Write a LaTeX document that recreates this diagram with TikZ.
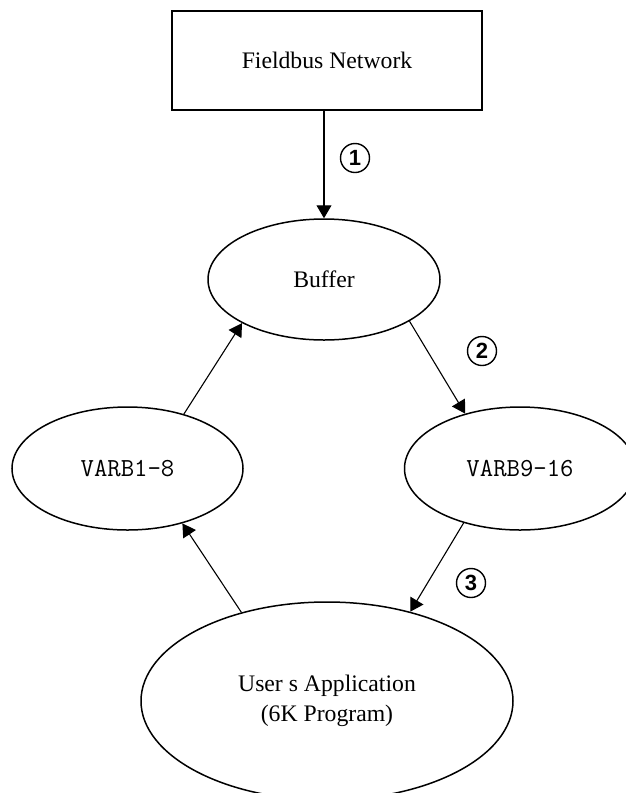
\documentclass[tikz,border=0pt]{standalone}
\usepackage{fontspec}
\setmainfont{Liberation Serif}
\newfontfamily\numfont{Liberation Sans}
\usetikzlibrary{arrows.meta,shapes.geometric}
\tikzset{
  boxshape/.style={draw, line width=1.6pt, rectangle, inner sep=0pt, minimum width=310pt, minimum height=99pt},
  ellshape/.style={draw, line width=1.5pt, ellipse, inner sep=0pt},
  flow/.style={line width=1.1pt, -{Triangle[length=13pt,width=15pt]}},
  numcirc/.style={draw, line width=1.4pt, circle, inner sep=0pt, minimum size=29pt, font=\numfont\bfseries\fontsize{22}{22}\selectfont},
  bigtext/.style={font=\fontsize{23.7}{30}\selectfont},
  monotext/.style={font=\ttfamily\fontsize{26}{28}\selectfont}
}
\begin{document}
\begin{tikzpicture}[x=1pt,y=-1pt]
\useasboundingbox (0,0) rectangle (626,793);
\clip (0,0) rectangle (626,793);
\node[boxshape, bigtext] (fb) at (327,60.5) {Fieldbus Network};
\node[ellshape, bigtext, minimum width=232pt, minimum height=121pt] (buf) at (324,279.5) {Buffer};
\node[ellshape, monotext, minimum width=231pt, minimum height=123pt] (v1) at (127.5,468.5) {VARB1-8};
\node[ellshape, monotext, minimum width=231pt, minimum height=123pt] (v2) at (520,468.5) {VARB9-16};
\node[ellshape, bigtext, align=center, minimum width=372pt, minimum height=198pt] (usr) at (327,701) {User s Application\\(6K Program)};
\node[numcirc] (n1) at (355,158) {1};
\node[numcirc] (n2) at (482,351) {2};
\node[numcirc] (n3) at (471,583) {3};
\draw[flow] (fb.south -| buf.north) -- (buf.north);
\draw[flow] (v1.44) -- (buf.208);
\draw[flow] (buf.334.5) -- (v2.135.8);
\draw[flow] (v2.224.2) -- (usr.47);
\draw[flow] (usr.134) -- (v1.315.5);
\end{tikzpicture}
\end{document}
